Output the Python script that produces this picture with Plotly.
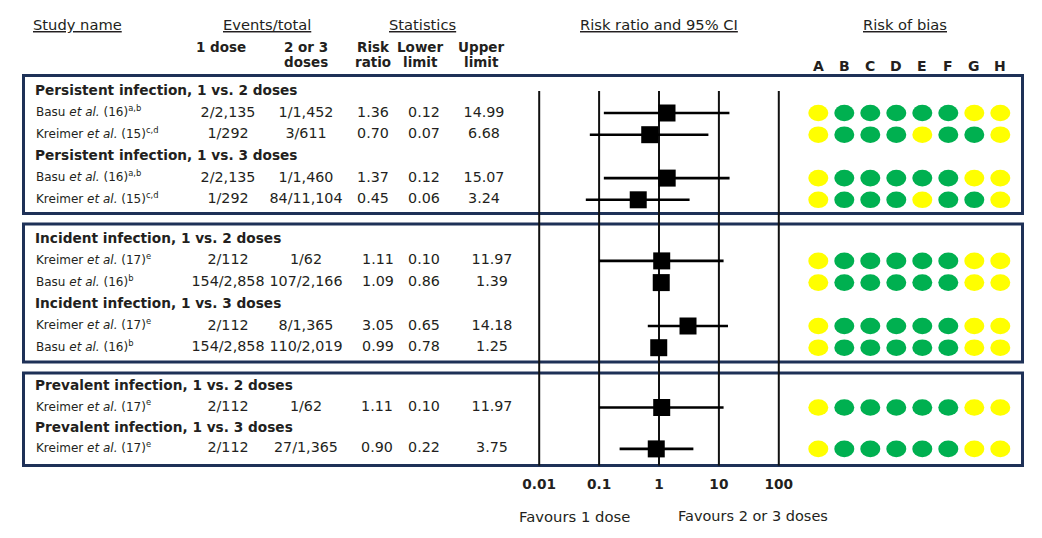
import math
import plotly.graph_objects as go

# ---------------- data ----------------
group_titles = [
    "Persistent infection, 1 vs. 2 doses",
    "Persistent infection, 1 vs. 3 doses",
    "Incident infection, 1 vs. 2 doses",
    "Incident infection, 1 vs. 3 doses",
    "Prevalent infection, 1 vs. 2 doses",
    "Prevalent infection, 1 vs. 3 doses",
]
box_groups = [[0, 1], [2, 3], [4, 5]]

study_names = [
    "Basu <i>et al.</i> (16)<sup>a,b</sup>",
    "Kreimer <i>et al.</i> (15)<sup>c,d</sup>",
    "Basu <i>et al.</i> (16)<sup>a,b</sup>",
    "Kreimer <i>et al.</i> (15)<sup>c,d</sup>",
    "Kreimer <i>et al.</i> (17)<sup>e</sup>",
    "Basu <i>et al.</i> (16)<sup>b</sup>",
    "Kreimer <i>et al.</i> (17)<sup>e</sup>",
    "Basu <i>et al.</i> (16)<sup>b</sup>",
    "Kreimer <i>et al.</i> (17)<sup>e</sup>",
    "Kreimer <i>et al.</i> (17)<sup>e</sup>",
]
study_group = [0, 0, 1, 1, 2, 2, 3, 3, 4, 5]
events_1dose = ["2/2,135", "1/292", "2/2,135", "1/292", "2/112", "154/2,858",
                "2/112", "154/2,858", "2/112", "2/112"]
events_23dose = ["1/1,452", "3/611", "1/1,460", "84/11,104", "1/62", "107/2,166",
                 "8/1,365", "110/2,019", "1/62", "27/1,365"]
risk_ratio = [1.36, 0.70, 1.37, 0.45, 1.11, 1.09, 3.05, 0.99, 1.11, 0.90]
lower_limit = [0.12, 0.07, 0.12, 0.06, 0.10, 0.86, 0.65, 0.78, 0.10, 0.22]
upper_limit = [14.99, 6.68, 15.07, 3.24, 11.97, 1.39, 14.18, 1.25, 11.97, 3.75]

bias_domains = ["A", "B", "C", "D", "E", "F", "G", "H"]
# Y = yellow (unclear / some concerns), G = green (low risk)
risk_of_bias = [
    "YGGGGGYY", "YGGGYGGY", "YGGGGGYY", "YGGGYGGY",
    "YGGGGGYY", "YGGGGGYY", "YGGGGGYY", "YGGGGGYY",
    "YGGGGGYY", "YGGGGGYY",
]
axis_ticks = [0.01, 0.1, 1, 10, 100]
axis_ticktext = ["0.01", "0.1", "1", "10", "100"]

# ---------------- layout constants ----------------
W, H = 1042, 538
OFF = 8  # page body margin
FONT = "DejaVu Sans"
TXT = "#231f20"
NAVY = "#1e3157"
YELLOW = "#FFFF00"
GREEN = "#00B050"
bias_color = {"Y": YELLOW, "G": GREEN}

box_top = [75.5, 224.0, 373.0]
box_bottom = [213.5, 362.0, 465.5]
box_first = [91.3, 239.2, 386.8]
box_step = [21.7, 21.7, 20.7]
box_x0, box_x1 = 23.5, 1022.5

col_name = 36
col_title = 35
col_ev1 = 228
col_ev23 = 306
col_rr = [373, 378, 377]
col_lo = 424
col_up = [484, 492, 492]
bias_x0, bias_dx = 818.3, 26.0

# forest-plot log axis mapping (pixel of 0.01 and px per decade)
px_001 = 539.2
px_dec = 59.9

# ---------------- row positions ----------------
title_y = {}
study_y = [None] * len(study_names)
study_box = [None] * len(study_names)
for b, groups in enumerate(box_groups):
    r = 0
    for g in groups:
        title_y[g] = box_first[b] + r * box_step[b]
        r += 1
        for s, sg in enumerate(study_group):
            if sg == g:
                study_y[s] = box_first[b] + r * box_step[b]
                study_box[s] = b
                r += 1

fig = go.Figure()

# group titles
fig.add_trace(go.Scatter(
    x=[col_title] * len(group_titles), y=[title_y[g] for g in range(len(group_titles))],
    text=["<b>%s</b>" % t for t in group_titles], mode="text", textposition="middle right",
    textfont=dict(family=FONT, size=13.7, color=TXT), hoverinfo="skip", showlegend=False))

# study names
fig.add_trace(go.Scatter(
    x=[col_name] * len(study_names), y=study_y, text=study_names, mode="text",
    textposition="middle right", textfont=dict(family=FONT, size=12, color=TXT),
    hoverinfo="skip", showlegend=False))

# numeric columns
for cxs, vals in [([col_ev1] * 3, events_1dose), ([col_ev23] * 3, events_23dose),
                  (col_rr, ["%.2f" % v for v in risk_ratio]),
                  ([col_lo] * 3, ["%.2f" % v for v in lower_limit]),
                  (col_up, ["%.2f" % v for v in upper_limit])]:
    fig.add_trace(go.Scatter(
        x=[cxs[b] for b in study_box], y=study_y, text=vals, mode="text",
        textposition="middle center",
        textfont=dict(family=FONT, size=14.3, color=TXT), hoverinfo="skip", showlegend=False))

# forest plot points with CI
fig.add_trace(go.Scatter(
    x=risk_ratio, y=study_y, xaxis="x2", yaxis="y", mode="markers",
    marker=dict(symbol="square", size=17, color="black", line=dict(width=0)),
    error_x=dict(type="data", symmetric=False,
                 array=[u - r for u, r in zip(upper_limit, risk_ratio)],
                 arrayminus=[r - l for r, l in zip(risk_ratio, lower_limit)],
                 width=0, thickness=2.6, color="black"),
    hoverinfo="skip", showlegend=False))

# axis tick labels
fig.add_trace(go.Scatter(
    x=axis_ticks, y=[486] * len(axis_ticks), xaxis="x2", mode="text",
    text=["<b>%s</b>" % t for t in axis_ticktext], textposition="middle center",
    textfont=dict(family=FONT, size=13.7, color=TXT), hoverinfo="skip", showlegend=False))

shapes = []
# boxes
for t, btm in zip(box_top, box_bottom):
    shapes.append(dict(type="rect", xref="x", yref="y", x0=box_x0, x1=box_x1, y0=t, y1=btm,
                       line=dict(color=NAVY, width=3), fillcolor="rgba(0,0,0,0)", layer="below"))
# vertical reference lines
for tv in axis_ticks:
    shapes.append(dict(type="line", xref="x2", yref="y", x0=tv, x1=tv, y0=91, y1=465.5,
                       line=dict(color="#111", width=2), layer="below"))
# risk of bias dots
for s, codes in enumerate(risk_of_bias):
    for k, c in enumerate(codes):
        cx = bias_x0 + k * bias_dx
        cy = study_y[s]
        shapes.append(dict(type="circle", xref="x", yref="y", x0=cx - 10, x1=cx + 10,
                           y0=cy - 8.3, y1=cy + 8.3, fillcolor=bias_color[c],
                           line=dict(width=0)))

ann = []
def A(x, y, text, size, xanchor="center", bold=False):
    ann.append(dict(x=x, y=y, xref="x", yref="y", text=("<b>%s</b>" % text) if bold else text,
                    showarrow=False, xanchor=xanchor, yanchor="middle",
                    font=dict(family=FONT, size=size, color=TXT)))

A(31, 24, "<u>Study name</u>", 14.7, xanchor="left")
A(267, 24, "<u>Events/total</u>", 14.7)
A(422, 24, "<u>Statistics</u>", 14.7)
A(658.5, 24, "<u>Risk ratio and 95% CI</u>", 14.7)
A(905, 24, "<u>Risk of bias</u>", 14.7)
A(221, 47, "1 dose", 13.5, bold=True)
A(306, 47, "2 or 3", 13.5, bold=True)
A(306, 62, "doses", 13.5, bold=True)
A(373, 47, "Risk", 13.5, bold=True)
A(373, 62, "ratio", 13.5, bold=True)
A(420, 47, "Lower", 13.5, bold=True)
A(420, 62, "limit", 13.5, bold=True)
A(481, 47, "Upper", 13.5, bold=True)
A(481, 62, "limit", 13.5, bold=True)
for k, d in enumerate(bias_domains):
    A(bias_x0 + k * bias_dx, 66, d, 14, bold=True)
A(574, 516, "Favours 1 dose", 14.8)
A(753, 516, "Favours 2 or 3 doses", 14.5)

# visible area in data pixels: [OFF, W] x [OFF, H]
lo = -2 + (OFF - px_001) / px_dec
hi = -2 + (W - px_001) / px_dec

fig.update_layout(
    width=W - OFF, height=H - OFF, autosize=False,
    margin=dict(l=0, r=0, t=0, b=0, pad=0),
    paper_bgcolor="white", plot_bgcolor="white",
    xaxis=dict(range=[OFF, W], visible=False, fixedrange=True),
    xaxis2=dict(type="log", range=[lo, hi], overlaying="x", anchor="y", visible=False,
                fixedrange=True),
    yaxis=dict(range=[H, OFF], visible=False, fixedrange=True),
    shapes=shapes, annotations=ann, showlegend=False,
)

fig.write_html("out.html")
